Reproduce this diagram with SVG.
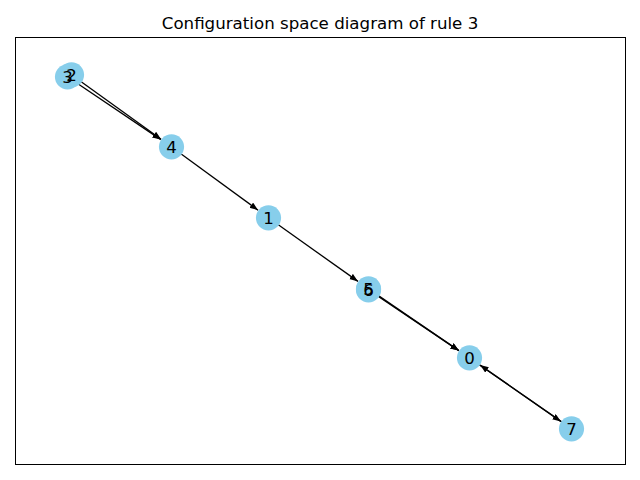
<svg xmlns="http://www.w3.org/2000/svg" width="640" height="480" viewBox="0 0 640 480">
<style>
.node circle{fill:#87ceeb;stroke:none}
.labels text{font-family:"DejaVu Sans",sans-serif;font-size:16.67px;fill:#000;text-anchor:middle}
.edge{stroke:#000;stroke-width:1.3;fill:none;marker-end:url(#arr)}
.title{font-family:"DejaVu Sans",sans-serif;font-size:16.67px;fill:#000;text-anchor:middle}
</style>
<defs>
<marker id="arr" markerUnits="userSpaceOnUse" markerWidth="10" markerHeight="8" refX="8.5" refY="3.2" orient="auto">
<path d="M0,0 L8.5,3.2 L0,6.4 z" fill="#000"/>
</marker>
</defs>
<rect width="640" height="480" fill="#fff"/>
<rect x="15.5" y="37.5" width="610" height="427" fill="none" stroke="#000" stroke-width="1"/>
<text class="title" x="320" y="29">Configuration space diagram of rule 3</text>
<g transform="translate(0.5,0.8)">
<g id="edges">
<path class="edge" d="M80.7,81.0 L160.6,138.5"/>
<path class="edge" d="M77.0,82.7 L160.3,138.8"/>
<path class="edge" d="M180.7,153.1 L257.6,209.4"/>
<path class="edge" d="M277.8,224.0 L357.5,280.6"/>
<path class="edge" d="M377.9,294.8 L458.4,349.8"/>
<path class="edge" d="M377.9,295.7 L458.3,349.8"/>
<path class="edge" d="M478.8,363.9 L560.4,420.7"/>
<path class="edge" d="M561.2,421.1 L479.6,364.3"/>
</g>
<g id="node-3" class="node"><circle cx="67" cy="76" r="12.6"/></g>
<g id="node-2" class="node"><circle cx="71" cy="74" r="12.6"/></g>
<g id="node-4" class="node"><circle cx="171" cy="146" r="12.6"/></g>
<g id="node-1" class="node"><circle cx="268" cy="217" r="12.6"/></g>
<g id="node-5" class="node"><circle cx="368" cy="288" r="12.6"/></g>
<g id="node-6" class="node"><circle cx="368" cy="289" r="12.6"/></g>
<g id="node-0" class="node"><circle cx="469" cy="357" r="12.6"/></g>
<g id="node-7" class="node"><circle cx="571" cy="428" r="12.6"/></g>
<g id="labels" class="labels">
<text id="label-3" x="67" y="82">3</text>
<text id="label-2" x="71" y="80">2</text>
<text id="label-4" x="171" y="152">4</text>
<text id="label-1" x="268" y="223">1</text>
<text id="label-5" x="368" y="294">5</text>
<text id="label-6" x="368" y="295">6</text>
<text id="label-0" x="469" y="363">0</text>
<text id="label-7" x="571" y="434">7</text>
</g>
</g>
</svg>
